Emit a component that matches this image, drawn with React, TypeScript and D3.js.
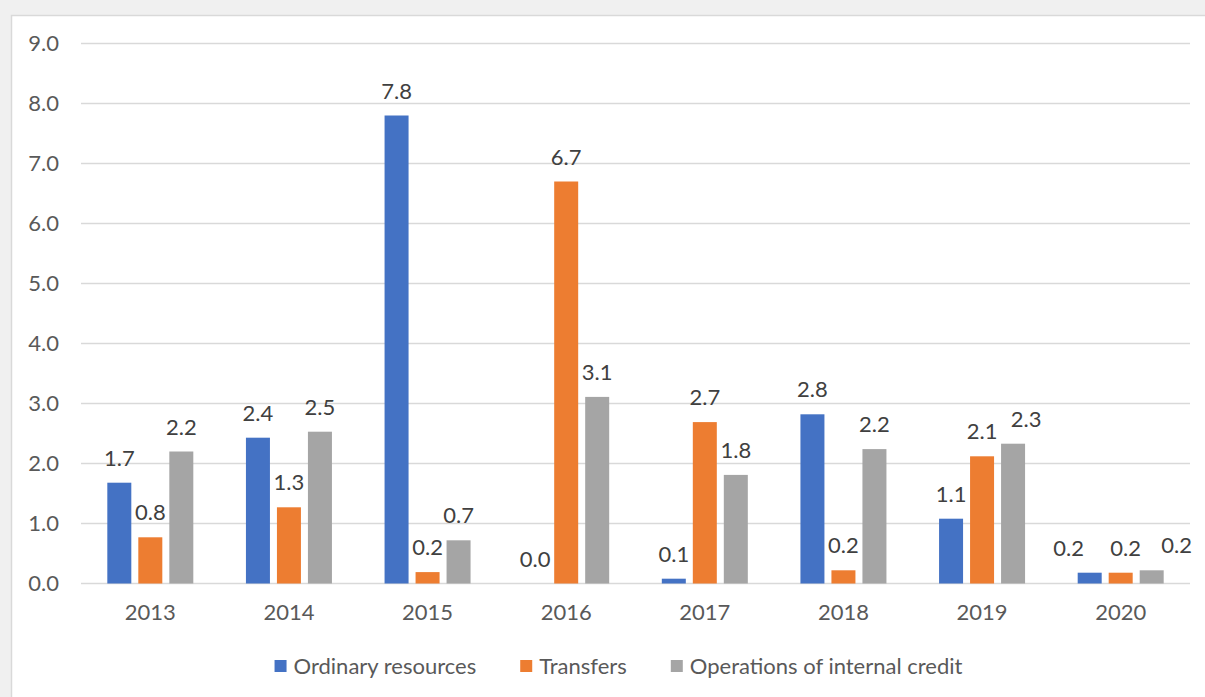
import React, { useEffect, useRef } from "react";
import * as d3 from "d3";

const years = ["2013", "2014", "2015", "2016", "2017", "2018", "2019", "2020"];
const seriesNames = ["Ordinary resources", "Transfers", "Operations of internal credit"];
const ordinary = [1.68, 2.43, 7.8, 0.0, 0.08, 2.82, 1.08, 0.18];
const transfers = [0.77, 1.27, 0.19, 6.7, 2.69, 0.22, 2.12, 0.18];
const internalCredit = [2.2, 2.53, 0.72, 3.11, 1.81, 2.24, 2.33, 0.22];
const colors = ["#4472C4", "#ED7D31", "#A5A5A5"];
const yTicks = [0, 1, 2, 3, 4, 5, 6, 7, 8, 9];
// label horizontal nudges (Excel-style manual placement), [yearIndex, seriesIndex, dx]
const labelNudges: [number, number, number][] = [
  [6, 2, 13],
  [7, 0, -21],
  [7, 1, 5],
  [7, 2, 25],
];

const W = 1205;
const H = 697;
const FONT = "Lato, 'Open Sans', sans-serif";
const TEXT = "#595959";
const FS = 22;

export default function App() {
  const ref = useRef<SVGSVGElement>(null);
  useEffect(() => {
    const svg = d3.select(ref.current);
    svg.selectAll("*").remove();

    svg.append("rect").attr("x", 0).attr("y", 0).attr("width", W).attr("height", H).attr("fill", "#f0f0f0");
    svg.append("rect").attr("x", 11.5).attr("y", 15.5).attr("width", W + 20).attr("height", H + 20)
      .attr("fill", "#ffffff").attr("stroke", "#d9d9d9").attr("stroke-width", 1.5);

    const left = 81, right = 1190, top = 43.5, bottom = 583.5;
    const y = d3.scaleLinear().domain([0, 9]).range([bottom, top]);
    const x0 = d3.scaleBand<string>().domain(years).range([left, right]).padding(0);
    const x1 = d3.scaleBand<string>().domain(seriesNames).range([-43, 43]).paddingInner(7 / 31).paddingOuter(0);

    const g = svg.append("g");
    g.selectAll("line.grid").data(yTicks).enter().append("line")
      .attr("x1", left).attr("x2", right)
      .attr("y1", (d) => y(d)).attr("y2", (d) => y(d))
      .attr("stroke", "#d9d9d9").attr("stroke-width", 1.5);

    g.selectAll("text.ytick").data(yTicks).enter().append("text")
      .attr("x", 59).attr("y", (d) => y(d)).attr("dy", "0.36em")
      .attr("text-anchor", "end").attr("font-family", FONT).attr("font-size", FS).attr("fill", TEXT)
      .text((d) => d3.format(".1f")(d));

    g.selectAll("text.xtick").data(years).enter().append("text")
      .attr("x", (d) => x0(d)! + x0.bandwidth() / 2).attr("y", 612).attr("dy", "0.36em")
      .attr("text-anchor", "middle").attr("font-family", FONT).attr("font-size", FS).attr("fill", TEXT)
      .text((d) => d);

    const allSeries = [ordinary, transfers, internalCredit];
    const nudge = (yi: number, si: number) => {
      const n = labelNudges.find((t) => t[0] === yi && t[1] === si);
      return n ? n[2] : 0;
    };
    allSeries.forEach((vals, si) => {
      const name = seriesNames[si];
      const items = vals.map((v, yi) => ({ v, yi }));
      g.selectAll(`rect.s${si}`).data(items).enter().append("rect")
        .attr("x", (d) => x0(years[d.yi])! + x0.bandwidth() / 2 + x1(name)!)
        .attr("width", x1.bandwidth())
        .attr("y", (d) => y(d.v))
        .attr("height", (d) => bottom - y(d.v))
        .attr("fill", colors[si]);
      g.selectAll(`text.l${si}`).data(items).enter().append("text")
        .attr("x", (d) => x0(years[d.yi])! + x0.bandwidth() / 2 + x1(name)! + x1.bandwidth() / 2 + nudge(d.yi, si))
        .attr("y", (d) => y(d.v) - 17)
        .attr("text-anchor", "middle").attr("font-family", FONT).attr("font-size", FS).attr("fill", "#404040")
        .text((d) => d3.format(".1f")(d.v));
    });

    const lg = svg.append("g");
    const items = lg.selectAll("g.li").data(seriesNames).enter().append("g");
    items.append("rect").attr("width", 12).attr("height", 12).attr("y", -6).attr("fill", (_, i) => colors[i]);
    items.append("text").attr("x", 19).attr("dy", "0.36em").attr("font-family", FONT).attr("font-size", FS)
      .attr("fill", TEXT).text((d) => d);
    const widths: number[] = [];
    items.each(function () {
      const t = (this as SVGGElement).querySelector("text") as SVGTextElement;
      widths.push(19 + t.getComputedTextLength());
    });
    const gap = 44;
    const total = d3.sum(widths) + gap * (widths.length - 1);
    let cx = 618.5 - total / 2;
    items.each(function (_, i) {
      d3.select(this).attr("transform", `translate(${cx},666)`);
      cx += widths[i] + gap;
    });
  }, []);

  return (
    <svg ref={ref} width={W} height={H} style={{ position: "absolute", left: 0, top: 0, display: "block" }} />
  );
}
